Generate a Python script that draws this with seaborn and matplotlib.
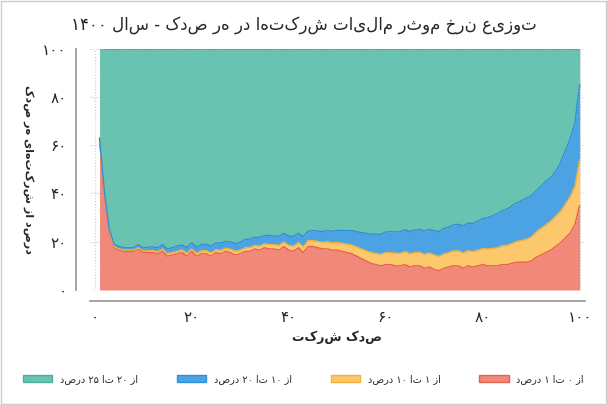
import numpy as np
import matplotlib
matplotlib.use("Agg")
import matplotlib.pyplot as plt
import seaborn as sns
from matplotlib.patches import Patch

x = list(range(1, 101))
red = [62,40,24,17.5,16.5,16,16,16,17,15.5,15.5,15.5,15,16,14,14.5,15,15.5,14,16,
       14,15,15,14,15.5,15,16,15.5,14.5,15,16,16,17,16.5,17.5,17,17,16.5,18,16.5,
       16,17.5,15.5,18,18,17.5,17,17,16.5,16.5,16,15.5,15,14,13,12,11,10.5,10,10.5,
       10.5,10,10,10.5,9.5,10,10,9,9.5,8.5,8,9,9.5,10,10,9,10,9.5,10,10.5,
       10,10,10,10.5,10.5,11,11.5,11.5,11.5,12,13.5,14.5,15.5,16.5,18,19.5,21.5,23.5,27,35]
yellow = [0.5,0.5,0.5,0.5,0.5,0.5,0.5,0.5,0.5,0.6,0.8,0.8,0.9,1,1,1,1,1.1,1.2,1,
          1.2,1.2,1.3,1.3,1.2,1.4,1.3,1.4,1.5,1.5,1.5,1.6,1.5,1.7,1.6,1.8,1.8,2,1.8,2,
          2.2,2.2,2.4,2.5,2.4,2.6,2.8,3,3,3.2,3.3,3.5,3.6,3.8,4,4.2,4.5,4.6,4.8,5,
          5,5.2,5.2,5.4,5.5,5.5,5.6,5.8,5.8,6,6,6,6,6.2,6.2,6.3,6.3,6.4,6.5,6.6,
          7,7.2,7.5,7.8,8,8.3,8.6,9,9.5,10,10.5,11,11.5,12,12.5,13,14,15,16,19]
blue = [0.5,0.5,0.8,1,1,1,1,1,1.2,1.3,1.5,1.5,1.6,1.8,2,2,2.2,2,2.3,2.5,
        2.5,2.6,2.6,2.8,2.8,3,2.8,3,3.2,3.2,3.4,3.5,3.3,3.6,3.4,3.8,3.5,3.8,3.6,3.8,
        4,3.8,4.2,3.8,4.2,4.3,4.4,4.6,4.8,5,5.3,5.6,6,6.3,6.8,7.2,7.6,8,8.3,8.5,
        8.7,8.8,9,9,9.2,9.3,9.5,9.6,9.8,10,10.2,10.5,10.5,10.8,11,11.2,11.4,11.6,12,12.5,
        13,13.5,14,14.5,15,15.5,16,16.5,17,17,17,17.5,18,18,18.5,20,22,24,26,31]
total = [100,99.8,99.6,99.7,99.6,99.5,99.6,99.7,99.5,99.6,99.7,99.6,99.5,99.6,99.7,99.6,99.5,99.6,99.7,99.5,
         99.6,99.5,99.6,99.7,99.6,99.5,99.6,99.7,99.6,99.5,99.6,99.7,99.5,99.6,99.7,99.6,99.5,99.6,99.7,99.6,
         99.5,99.6,99.7,99.6,99.5,99.6,99.7,99.6,99.5,99.6,99.7,99.6,99.5,99.6,99.7,99.6,99.5,99.6,99.7,99.6,
         99.5,99.6,99.7,99.6,99.5,99.6,99.7,99.6,99.5,99.6,99.7,99.6,99.5,99.6,99.7,99.6,99.5,99.6,99.7,99.6,
         99.5,99.6,99.7,99.6,99.5,99.6,99.7,99.6,99.5,99.6,99.7,99.6,99.5,99.6,99.7,99.6,99.5,99.6,99.7,99.6]
green = [t - r - y - b for t, r, y, b in zip(total, red, yellow, blue)]

labels = ["از ۰ تا ۱ درصد", "از ۱ تا ۱۰ درصد", "از ۱۰ تا ۲۰ درصد", "از ۲۰ تا ۲۵ درصد"]
xticks = [0, 20, 40, 60, 80, 100]
xticklabels = ["۰", "۲۰", "۴۰", "۶۰", "۸۰", "۱۰۰"]
yticklabels = ["۰", "۲۰", "۴۰", "۶۰", "۸۰", "۱۰۰"]
title = "توزیع نرخ موثر مالیات شرکتها در هر صدک - سال ۱۴۰۰"
xlabel = "صدک شرکت"
ylabel = "درصد از شرکتهای هر صدک"

def rtl(s):
    # reverse character order for visual right-to-left display (no shaping available)
    out = []
    for tok in s.split(" ")[::-1]:
        if all(c in "۰۱۲۳۴۵۶۷۸۹" for c in tok):
            out.append(tok)
        else:
            out.append(tok[::-1])
    return " ".join(out)

sns.set_theme(style="white")
plt.rcParams['font.family'] = ['DejaVu Sans']

fills = ["#f0897a", "#fdc86c", "#4ba3e3", "#6ac3b0"]
edges = ["#e8604f", "#f5b03c", "#2f8fd8", "#4fae98"]

fig = plt.figure(figsize=(6.07, 4.05), dpi=100)
ax = fig.add_axes([0.148, 0.284, 0.815, 0.596])
polys = ax.stackplot(x, red, yellow, blue, green, colors=fills, linewidth=0)
cum = np.cumsum([red, yellow, blue, green], axis=0)
for c, e in zip(cum, edges):
    sns.lineplot(x=x, y=c, ax=ax, color=e, linewidth=1)

ax.set_xlim(-1, 101)
ax.set_ylim(0, 100)
ax.set_xticks(xticks)
ax.set_xticklabels(xticklabels, fontsize=7)
ax.set_yticks([0, 20, 40, 60, 80, 100])
ax.set_yticklabels(yticklabels, fontsize=6)
ax.grid(True, linestyle=":", color="#cccccc", linewidth=0.8)
ax.set_axisbelow(True)
for s in ["top", "right"]:
    ax.spines[s].set_visible(False)
ax.spines["left"].set_position(("outward", 10))
ax.spines["bottom"].set_position(("outward", 8))
ax.spines["left"].set_color("#999999")
ax.spines["bottom"].set_color("#999999")
ax.tick_params(axis="both", length=3, color="#999999")
ax.set_xlabel(rtl(xlabel), fontsize=9, fontweight="bold")
ax.set_ylabel(rtl(ylabel), fontsize=8, fontweight="bold", rotation=270, labelpad=14)
fig.suptitle(rtl(title), fontsize=12, y=0.96)

handles = [Patch(facecolor=fills[i], edgecolor=edges[i], label=rtl(labels[i])) for i in [3, 2, 1, 0]]
fig.legend(handles=handles, loc="lower center", ncol=4, frameon=False, fontsize=7,
           bbox_to_anchor=(0.5, 0.03), columnspacing=4, handlelength=3, markerfirst=True)
fig.patches.append(plt.Rectangle((0.002, 0.002), 0.996, 0.996, transform=fig.transFigure,
                                 fill=False, edgecolor="#cccccc", linewidth=1))
fig.savefig("out.png", dpi=100)
